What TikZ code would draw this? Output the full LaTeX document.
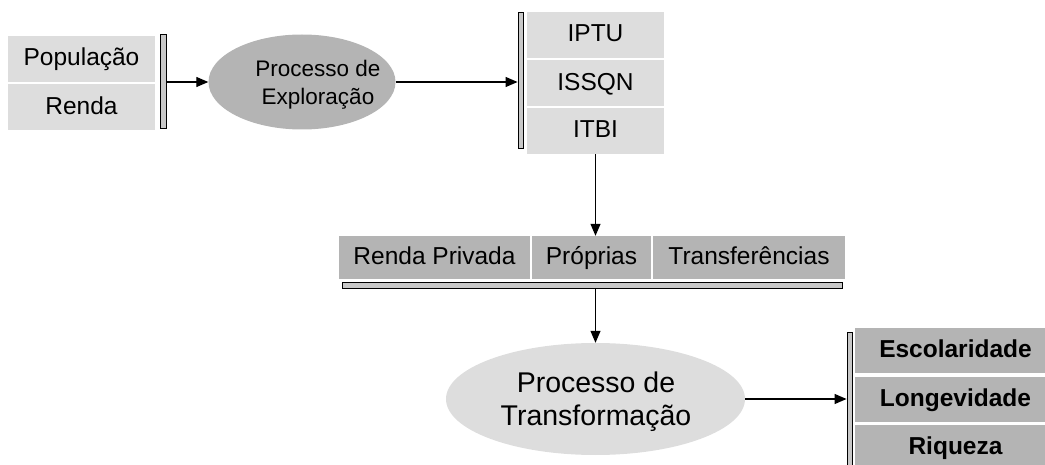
\documentclass[tikz,border=0pt]{standalone}
\usepackage{fontspec}
\setmainfont{Liberation Sans}
\usetikzlibrary{arrows.meta,shapes.geometric}
\definecolor{lightfill}{RGB}{221,221,221}
\definecolor{darkfill}{RGB}{180,180,180}
\definecolor{barfill}{RGB}{200,200,200}
\tikzset{
  boxtext/.style={font=\fontsize{24.5}{28}\selectfont, text height=17.6pt, text depth=4pt},
  lbox/.style={rectangle, fill=lightfill, inner sep=0pt, boxtext},
  dbox/.style={rectangle, fill=darkfill, inner sep=0pt, boxtext},
  bbox/.style={dbox, font=\fontsize{24.5}{28}\selectfont\bfseries},
  barnode/.style={rectangle, draw=black, fill=barfill, line width=0.9pt, inner sep=0pt},
  arr/.style={line width=1.2pt, -{Triangle[length=12pt,width=10pt]}}
}
\begin{document}
\begin{tikzpicture}[x=1pt,y=-1pt]
\useasboundingbox (0,0) rectangle (1045,465);
\clip (0,0) rectangle (1045,465);

% left inputs
\node[lbox, minimum width=147, minimum height=46] (pop) at (81.5,59) {População};
\node[lbox, minimum width=147, minimum height=46] (renda) at (81.5,107.5) {Renda};
\node[barnode, minimum width=6, minimum height=94] (b1) at (163,81) {};

% exploration process
\node[ellipse, fill=darkfill, inner sep=0pt, minimum width=187, minimum height=95] (e1) at (302,82) {};
\node[align=center, inner sep=0pt, font=\fontsize{22.5}{28}\selectfont] (e1t) at (318,85) {Processo de\\Exploração};

% taxes
\node[barnode, minimum width=5, minimum height=136] (b2) at (520.5,80) {};
\node[lbox, minimum width=137, minimum height=46] (iptu) at (595.5,35) {IPTU};
\node[lbox, minimum width=137, minimum height=46] (issqn) at (595.5,83.5) {ISSQN};
\node[lbox, minimum width=137, minimum height=46] (itbi) at (595.5,131) {ITBI};

% revenues
\node[dbox, minimum width=191, minimum height=43] (rp) at (434.5,257.5) {Renda Privada};
\node[dbox, minimum width=119, minimum height=43] (prop) at (591.5,257.5) {Próprias};
\node[dbox, minimum width=192, minimum height=43] (transf) at (749,257.5) {Transferências};
\node[barnode, minimum width=500, minimum height=6] (b3) at (592,285) {};

% transformation process
\node[ellipse, fill=lightfill, inner sep=0pt, minimum width=299, minimum height=112] (e2) at (595.5,399) {};
\node[align=center, inner sep=0pt, font=\fontsize{28.5}{33}\selectfont] (e2t) at (596,402) {Processo de\\Transformação};

% outputs
\node[barnode, minimum width=5, minimum height=140] (b4) at (849.5,402) {};
\node[bbox, minimum width=201, minimum height=45] (esc) at (955.5,350.5) {Escolaridade};
\node[bbox, minimum width=201, minimum height=45] (lon) at (955.5,399.5) {Longevidade};
\node[bbox, minimum width=201, minimum height=45] (riq) at (955.5,447.5) {Riqueza};

% connectors
\draw[arr] (b1.east |- e1.west) -- (e1.west);
\draw[arr] (e1.east) -- (e1.east -| b2.west);
\draw[arr] (itbi.south) -- (itbi.south |- prop.north);
\draw[arr] (b3.south -| e2.north) -- (e2.north);
\draw[arr] (e2.east) -- (e2.east -| b4.west);
\end{tikzpicture}
\end{document}
